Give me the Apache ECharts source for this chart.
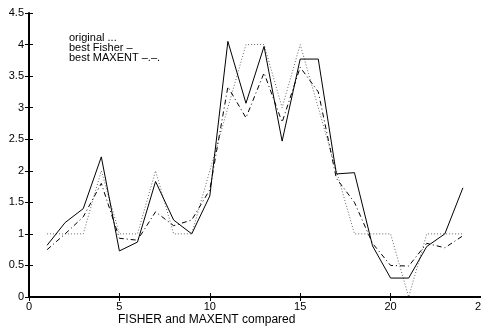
<!DOCTYPE html>
<html>
<head>
<meta charset="utf-8">
<script src="https://cdn.jsdelivr.net/npm/echarts@6/dist/echarts.min.js"></script>
<style>
  html, body { margin: 0; padding: 0; background: #fff; }
  #chart { width: 481px; height: 328px; }
</style>
</head>
<body>
<div id="chart"></div>
<script>
// sample index 1..24
var xs = [1, 2, 3, 4, 5, 6, 7, 8, 9, 10, 11, 12, 13, 14, 15, 16, 17, 18, 19, 20, 21, 22, 23, 24]
var original = [1, 1, 1, 2, 1, 1, 2, 1, 1, 2, 3, 4, 4, 3, 4, 3, 2, 1, 1, 1, 0, 1, 1, 1]
var fisher = [0.82, 1.18, 1.4, 2.22, 0.73, 0.87, 1.83, 1.22, 1.0, 1.6, 4.05, 3.07, 3.97, 2.47, 3.77, 3.77, 1.95, 1.97, 0.81, 0.3, 0.3, 0.8, 1.0, 1.73]
var maxent = [0.75, 1.0, 1.27, 1.8, 0.93, 0.9, 1.35, 1.13, 1.22, 1.7, 3.33, 2.84, 3.55, 2.77, 3.64, 3.25, 1.88, 1.5, 0.85, 0.5, 0.49, 0.85, 0.78, 0.97]
var legendLines = ['original ...', 'best Fisher \u2013', 'best MAXENT \u2013.\u2013.']

function pairs(vals) {
	return vals.map(function (v, i) { return [xs[i], v] })
}

var font = 'Liberation Sans, Arial, sans-serif'
var tickStyle = { show: true, inside: true, length: 4, lineStyle: { color: '#000', width: 1 } }

var chart = echarts.init(document.getElementById('chart'))
var option = {
	animation: false,
	backgroundColor: '#fff',
	grid: { left: 29, top: 13, right: 0, bottom: 31, outerBoundsMode: 'none', containLabel: false },
	xAxis: [{
		type: 'value',
		min: 0, max: 25, interval: 5,
		axisLine: { show: true, onZero: false, lineStyle: { color: '#000', width: 2 } },
		axisTick: tickStyle,
		axisLabel: { color: '#000', fontSize: 11, fontFamily: font, margin: 4 },
		splitLine: { show: false }
	}, {
		type: 'value', position: 'top',
		min: 0, max: 25, interval: 5,
		axisLine: { show: true, lineStyle: { color: '#000', width: 1 } },
		axisTick: tickStyle,
		axisLabel: { show: false },
		splitLine: { show: false }
	}],
	yAxis: [{
		type: 'value',
		min: 0, max: 4.5, interval: 0.5,
		axisLine: { show: true, onZero: false, lineStyle: { color: '#000', width: 2 } },
		axisTick: tickStyle,
		axisLabel: { color: '#000', fontSize: 11, fontFamily: font, margin: 5 },
		splitLine: { show: false }
	}, {
		type: 'value', position: 'right',
		min: 0, max: 4.5, interval: 0.5,
		axisLine: { show: false },
		axisTick: tickStyle,
		axisLabel: { show: false },
		splitLine: { show: false }
	}],
	series: [{
		name: 'original',
		type: 'line',
		data: pairs(original),
		symbol: 'none',
		lineStyle: { color: '#666', width: 1, type: [1, 2] }
	}, {
		name: 'best Fisher',
		type: 'line',
		data: pairs(fisher),
		symbol: 'none',
		lineStyle: { color: '#000', width: 1 }
	}, {
		name: 'best MAXENT',
		type: 'line',
		data: pairs(maxent),
		symbol: 'none',
		lineStyle: { color: '#000', width: 1, type: [5, 3, 1, 3] }
	}],
	graphic: [{
		type: 'text', left: 69, top: 32,
		style: { text: legendLines.join('\n'), fill: '#000', font: '11px ' + font, lineHeight: 10 }
	}, {
		type: 'text', left: 118, top: 314,
		style: { text: 'FISHER and MAXENT compared', fill: '#000', font: '12px ' + font }
	}]
}
chart.setOption(option)
</script>
</body>
</html>
